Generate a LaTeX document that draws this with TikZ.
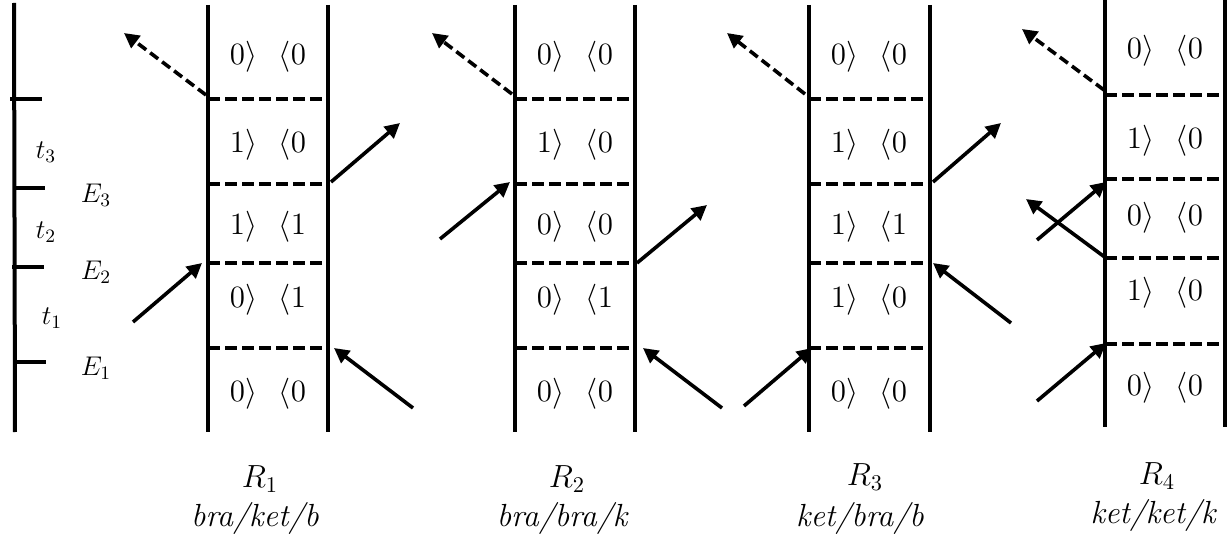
\RequirePackage{fix-cm}
\documentclass[tikz,border=0pt]{standalone}
\usepackage{amsmath}
\usepackage{tikz}
\usetikzlibrary{arrows.meta}
\newcommand{\kb}[2]{$#1\rangle$\hspace{0.7em}$\langle #2$}

\begin{document}
\begin{tikzpicture}
            [every node/.style={inner sep=0pt},
             wall/.style={line width=2pt},
             cut/.style={line width=1.6pt, dash pattern=on 6pt off 2.5pt},
             photon/.style={line width=1.8pt, -{Triangle[length=7.5pt,width=7.5pt]}},
             lost/.style={photon, dash pattern=on 5pt off 2.5pt},
             cell/.style={font=\fontsize{15.5}{18}\selectfont},
             stamp/.style={font=\fontsize{13.5}{16}\selectfont},
             caption/.style={font=\fontsize{16}{18}\selectfont\itshape}]
                \useasboundingbox (0pt,0pt) rectangle (614pt,-267.5pt);
                % time axis
                \draw [wall] (7pt,-1.5pt) -- (7.5pt,-216pt);
                \draw [wall] (5pt,-49.5pt) -- (21pt,-49.5pt);
                \draw [wall] (6.5pt,-94pt) -- (22.5pt,-94pt);
                \draw [wall] (6pt,-133.5pt) -- (22pt,-133.5pt);
                \draw [wall] (7.5pt,-181pt) -- (23pt,-181pt);
                \node (t3) [stamp] at (23pt, -76pt) {$t_3$};
                \node (E3) [stamp] at (48pt, -97.5pt) {$E_3$};
                \node (t2) [stamp] at (23pt, -116pt) {$t_2$};
                \node (E2) [stamp] at (48pt, -136pt) {$E_2$};
                \node (t1) [stamp] at (26pt, -159pt) {$t_1$};
                \node (E1) [stamp] at (48pt, -184pt) {$E_1$};
                % R1
                \draw [wall] (104pt,-2.5pt) -- (104pt,-216pt);
                \draw [wall] (164pt,-2.5pt) -- (164pt,-216pt);
                \draw [cut] (104pt,-49.5pt) -- (164pt,-49.5pt);
                \draw [cut] (104pt,-92pt) -- (164pt,-92pt);
                \draw [cut] (104pt,-131.5pt) -- (164pt,-131.5pt);
                \draw [cut] (104pt,-174pt) -- (164pt,-174pt);
                \node (c15) [cell] at (134pt, -28.5pt) {\kb{0}{0}};
                \node (c14) [cell] at (134pt, -72.5pt) {\kb{1}{0}};
                \node (c13) [cell] at (134pt, -113.5pt) {\kb{1}{1}};
                \node (c12) [cell] at (134pt, -150pt) {\kb{0}{1}};
                \node (c11) [cell] at (134pt, -197pt) {\kb{0}{0}};
                \coordinate (a1) at (103pt, -47.5pt);
                \coordinate (b1) at (62pt, -16.5pt);
                \coordinate (a2) at (165.5pt, -91pt);
                \coordinate (b2) at (200pt, -61.5pt);
                \coordinate (a3) at (66.5pt, -161pt);
                \coordinate (b3) at (101pt, -131.5pt);
                \coordinate (a4) at (206.5pt, -204pt);
                \coordinate (b4) at (167pt, -174pt);
                \draw [lost] (a1) -- (b1);
                \draw [photon] (a2) -- (b2);
                \draw [photon] (a3) -- (b3);
                \draw [photon] (a4) -- (b4);
                \node (R1) [stamp, font=\fontsize{16}{18}\selectfont] at (130pt, -239.5pt) {$R_1$};
                \node (n1) [caption] at (127.5pt, -259pt) {bra/ket/b};
                % R2
                \draw [wall] (257.5pt,-2.5pt) -- (257.5pt,-216pt);
                \draw [wall] (317.5pt,-2.5pt) -- (317.5pt,-216pt);
                \draw [cut] (257.5pt,-49.5pt) -- (317.5pt,-49.5pt);
                \draw [cut] (257.5pt,-92pt) -- (317.5pt,-92pt);
                \draw [cut] (257.5pt,-131.5pt) -- (317.5pt,-131.5pt);
                \draw [cut] (257.5pt,-174pt) -- (317.5pt,-174pt);
                \node (c25) [cell] at (287.5pt, -28.5pt) {\kb{0}{0}};
                \node (c24) [cell] at (287.5pt, -72.5pt) {\kb{1}{0}};
                \node (c23) [cell] at (287.5pt, -113.5pt) {\kb{0}{0}};
                \node (c22) [cell] at (287.5pt, -150pt) {\kb{0}{1}};
                \node (c21) [cell] at (287.5pt, -197pt) {\kb{0}{0}};
                \coordinate (a5) at (256pt, -47pt);
                \coordinate (b5) at (216pt, -16.5pt);
                \coordinate (a6) at (220pt, -119.5pt);
                \coordinate (b6) at (255pt, -91pt);
                \coordinate (a7) at (318.5pt, -131.5pt);
                \coordinate (b7) at (353.5pt, -102.5pt);
                \coordinate (a8) at (361pt, -204pt);
                \coordinate (b8) at (321.5pt, -174pt);
                \draw [lost] (a5) -- (b5);
                \draw [photon] (a6) -- (b6);
                \draw [photon] (a7) -- (b7);
                \draw [photon] (a8) -- (b8);
                \node (R2) [stamp, font=\fontsize{16}{18}\selectfont] at (283.5pt, -239.5pt) {$R_2$};
                \node (n2) [caption] at (281pt, -259pt) {bra/bra/k};
                % R3
                \draw [wall] (404.5pt,-2.5pt) -- (404.5pt,-216pt);
                \draw [wall] (465pt,-2.5pt) -- (465pt,-216pt);
                \draw [cut] (404.5pt,-49.5pt) -- (465pt,-49.5pt);
                \draw [cut] (404.5pt,-92pt) -- (465pt,-92pt);
                \draw [cut] (404.5pt,-131.5pt) -- (465pt,-131.5pt);
                \draw [cut] (404.5pt,-174pt) -- (465pt,-174pt);
                \node (c35) [cell] at (434.5pt, -28.5pt) {\kb{0}{0}};
                \node (c34) [cell] at (434.5pt, -72.5pt) {\kb{1}{0}};
                \node (c33) [cell] at (434.5pt, -113.5pt) {\kb{1}{1}};
                \node (c32) [cell] at (434.5pt, -150pt) {\kb{1}{0}};
                \node (c31) [cell] at (434.5pt, -197pt) {\kb{0}{0}};
                \coordinate (a9) at (402.5pt, -47pt);
                \coordinate (b9) at (363.5pt, -16.5pt);
                \coordinate (a10) at (466.5pt, -91pt);
                \coordinate (b10) at (500.5pt, -61.5pt);
                \coordinate (a11) at (505.5pt, -161.5pt);
                \coordinate (b11) at (466.5pt, -131.5pt);
                \coordinate (a12) at (372pt, -203pt);
                \coordinate (b12) at (406pt, -174pt);
                \draw [lost] (a9) -- (b9);
                \draw [photon] (a10) -- (b10);
                \draw [photon] (a11) -- (b11);
                \draw [photon] (a12) -- (b12);
                \node (R3) [stamp, font=\fontsize{16}{18}\selectfont] at (432.5pt, -238.5pt) {$R_3$};
                \node (n3) [caption] at (430pt, -259pt) {ket/bra/b};
                % R4
                \draw [wall] (552.5pt,0pt) -- (552.5pt,-213.5pt);
                \draw [wall] (612.5pt,0pt) -- (612.5pt,-213.5pt);
                \draw [cut] (552.5pt,-47.5pt) -- (612.5pt,-47.5pt);
                \draw [cut] (552.5pt,-89.5pt) -- (612.5pt,-89.5pt);
                \draw [cut] (552.5pt,-129pt) -- (612.5pt,-129pt);
                \draw [cut] (552.5pt,-172pt) -- (612.5pt,-172pt);
                \node (c45) [cell] at (582.5pt, -25.5pt) {\kb{0}{0}};
                \node (c44) [cell] at (582.5pt, -70.5pt) {\kb{1}{0}};
                \node (c43) [cell] at (582.5pt, -109pt) {\kb{0}{0}};
                \node (c42) [cell] at (582.5pt, -146.5pt) {\kb{1}{0}};
                \node (c41) [cell] at (582.5pt, -194pt) {\kb{0}{0}};
                \coordinate (a13) at (552pt, -45pt);
                \coordinate (b13) at (511pt, -14.5pt);
                \coordinate (a14) at (518.5pt, -120pt);
                \coordinate (b14) at (553pt, -91pt);
                \coordinate (a15) at (553pt, -129pt);
                \coordinate (b15) at (513pt, -99.5pt);
                \coordinate (a16) at (518.5pt, -200.5pt);
                \coordinate (b16) at (553pt, -171.5pt);
                \draw [lost] (a13) -- (b13);
                \draw [photon] (a14) -- (b14);
                \draw [photon] (a15) -- (b15);
                \draw [photon] (a16) -- (b16);
                \node (R4) [stamp, font=\fontsize{16}{18}\selectfont] at (578.5pt, -238pt) {$R_4$};
                \node (n4) [caption] at (576.5pt, -257.5pt) {ket/ket/k};
            \end{tikzpicture}
\end{document}
